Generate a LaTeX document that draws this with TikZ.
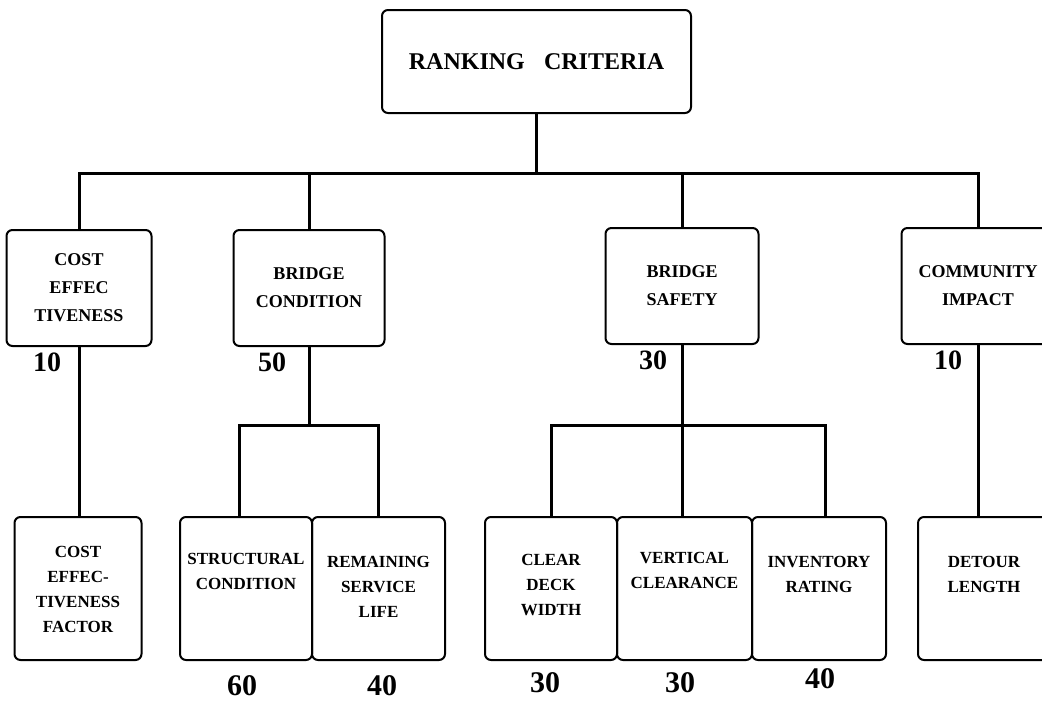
\documentclass[tikz,border=0pt]{standalone}
\usepackage{fontspec}
\setmainfont{Liberation Serif}
\usetikzlibrary{positioning}

\tikzset{
  critbox/.style={draw, line width=1pt, rounded corners=3pt, align=center,
    inner sep=0pt, minimum height=58pt,
    font=\bfseries\fontsize{9}{14}\selectfont},
  leafbox/.style={draw, line width=1pt, rounded corners=3pt,
    inner sep=0pt, minimum height=71.5pt},
  leaftext/.style={align=center, inner sep=0pt,
    font=\bfseries\fontsize{8.5}{12.5}\selectfont},
  weight/.style={inner sep=0pt, font=\bfseries\fontsize{14}{14}\selectfont},
  link/.style={line width=1.5pt},
}

\def\busY{173}
\def\subY{425}

\begin{document}
\begin{tikzpicture}[x=0.5pt, y=-0.5pt]
      \useasboundingbox (0,0) rectangle (1042,702);

      % top of the tree
      \node[draw, line width=1pt, rounded corners=3pt,
        minimum width=154.5pt, minimum height=51.5pt,
        font=\bfseries\fontsize{12}{14}\selectfont]
        (rank) at (536.5,61.5) {RANKING\hspace{0.8em}CRITERIA};

      % criteria
      \node[critbox, minimum width=72.5pt] (cost) at (79,288)
        {COST\\EFFEC\\TIVENESS};
      \node[critbox, minimum width=75.5pt] (cond) at (309,288)
        {BRIDGE\\CONDITION};
      \node[critbox, minimum width=76.5pt] (safety) at (682,286)
        {BRIDGE\\SAFETY};
      \node[critbox, minimum width=76.5pt] (commun) at (978,286)
        {COMMUNITY\\IMPACT};

      \node[weight] (wcost) at (47,362) {10};
      \node[weight] (wcond) at (272,362) {50};
      \node[weight] (wsafety) at (653,360) {30};
      \node[weight] (wcommun) at (948,360) {10};

      % sub criteria
      \node[leafbox, minimum width=63.5pt] (factor) at (78,588.5) {};
      \node[leafbox, minimum width=66pt] (struct) at (246,588.5) {};
      \node[leafbox, minimum width=66.5pt] (remain) at (378.5,588.5) {};
      \node[leafbox, minimum width=66pt] (deck) at (551,588.5) {};
      \node[leafbox, minimum width=67.5pt] (vert) at (684.5,588.5) {};
      \node[leafbox, minimum width=67pt] (invent) at (819,588.5) {};
      \node[leafbox, minimum width=66pt] (detour) at (984,588.5) {};

      \node[leaftext, below=15pt of factor.north] (factortxt)
        {COST\\EFFEC-\\TIVENESS\\FACTOR};
      \node[leaftext, below=18.5pt of struct.north] (structtxt)
        {STRUCTURAL\\CONDITION};
      \node[leaftext, below=20pt of remain.north] (remaintxt)
        {REMAINING\\SERVICE\\LIFE};
      \node[leaftext, below=19pt of deck.north] (decktxt)
        {CLEAR\\DECK\\WIDTH};
      \node[leaftext, below=18pt of vert.north] (verttxt)
        {VERTICAL\\CLEARANCE};
      \node[leaftext, below=20pt of invent.north] (inventtxt)
        {INVENTORY\\RATING};
      \node[leaftext, below=20pt of detour.north] (detourtxt)
        {DETOUR\\LENGTH};

      \node[weight, font=\bfseries\fontsize{15}{15}\selectfont] (wstruct) at (242,686) {60};
      \node[weight, font=\bfseries\fontsize{15}{15}\selectfont] (wremain) at (382,686) {40};
      \node[weight, font=\bfseries\fontsize{15}{15}\selectfont] (wdeck) at (545,683) {30};
      \node[weight, font=\bfseries\fontsize{15}{15}\selectfont] (wvert) at (680,683) {30};
      \node[weight, font=\bfseries\fontsize{15}{15}\selectfont] (winvent) at (820,679) {40};

      % connectors
      \coordinate (busL) at (cost.north |- 0,\busY);
      \coordinate (busR) at (commun.north |- 0,\busY);
      \draw[link] (rank.south) -- (rank.south |- busL);
      \draw[link] (cost.north) -- (busL) -- (busR) -- (commun.north);
      \draw[link] (cond.north) -- (cond.north |- busL);
      \draw[link] (safety.north) -- (safety.north |- busL);

      \draw[link] (cost.south) -- (cost.south |- factor.north);
      \draw[link] (commun.south) -- (commun.south |- detour.north);

      \coordinate (condL) at (239,\subY);
      \coordinate (condR) at (378,\subY);
      \draw[link] (cond.south) -- (cond.south |- condL);
      \draw[link] (condL |- struct.north) -- (condL) -- (condR)
        -- (condR |- remain.north);

      \coordinate (safeL) at (551,\subY);
      \coordinate (safeR) at (825,\subY);
      \draw[link] (safety.south) -- (safety.south |- vert.north);
      \draw[link] (safeL |- deck.north) -- (safeL) -- (safeR)
        -- (safeR |- invent.north);
\end{tikzpicture}
\end{document}
